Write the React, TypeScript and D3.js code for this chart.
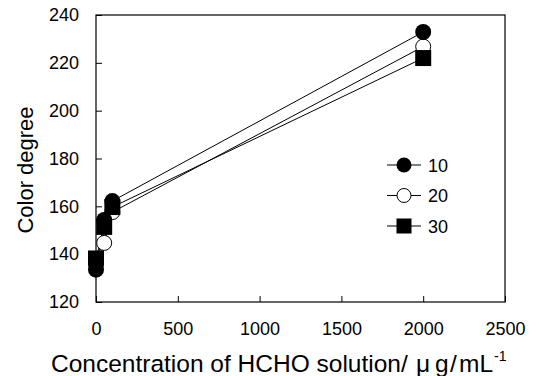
import * as d3 from "d3";
import React, { useEffect, useRef } from "react";

const concentrations = [0, 50, 100, 2000];
const series10 = [133.5, 154.3, 162.2, 232.9];
const series20 = [136.5, 144.7, 157.6, 226.8];
const series30 = [138.2, 151.4, 159.7, 222.0];
const seriesNames = ["10", "20", "30"];
const xTicks = [0, 500, 1000, 1500, 2000, 2500];
const yTicks = [120, 140, 160, 180, 200, 220, 240];

export default function App() {
  const svgRef = useRef<SVGSVGElement>(null);
  const width = 539;
  const height = 376;
  const margin = { top: 15, right: 34, bottom: 74, left: 96 };

  useEffect(() => {
    const svg = d3.select(svgRef.current);
    svg.selectAll("*").remove();
    const font = "'Liberation Sans', Arial, sans-serif";

    const x = d3
      .scaleLinear()
      .domain([0, 2500])
      .range([margin.left, width - margin.right]);
    const y = d3
      .scaleLinear()
      .domain([120, 240])
      .range([height - margin.bottom, margin.top]);

    // frame
    svg
      .append("rect")
      .attr("x", margin.left)
      .attr("y", margin.top)
      .attr("width", width - margin.left - margin.right)
      .attr("height", height - margin.top - margin.bottom)
      .attr("fill", "none")
      .attr("stroke", "#000")
      .attr("stroke-width", 1.2);

    /* X axis, ticks inside */
    const xAxis = svg
      .append("g")
      .attr("transform", "translate(0," + (height - margin.bottom) + ")")
      .call(
        d3
          .axisBottom(x)
          .tickValues(xTicks)
          .tickFormat(d3.format("d"))
          .tickSizeInner(-6)
          .tickSizeOuter(0)
          .tickPadding(20)
      );
    xAxis.select(".domain").remove();
    xAxis.selectAll("text").style("font-family", font).style("font-size", "18px").attr("fill", "#000");

    /* Y axis, ticks inside */
    const yAxis = svg
      .append("g")
      .attr("transform", "translate(" + margin.left + ",0)")
      .call(d3.axisLeft(y).tickValues(yTicks).tickSizeInner(-6).tickSizeOuter(0).tickPadding(17));
    yAxis.select(".domain").remove();
    yAxis.selectAll("text").style("font-family", font).style("font-size", "18px").attr("fill", "#000");

    const all = [series10, series20, series30];
    const line = d3
      .line<number>()
      .x((d, i) => x(concentrations[i]))
      .y((d) => y(d));

    all.forEach((s) => {
      svg
        .append("path")
        .attr("d", line(s) as string)
        .attr("fill", "none")
        .attr("stroke", "#000")
        .attr("stroke-width", 1);
    });

    const drawMarker = (g: any, k: number, cx: number, cy: number, big: boolean) => {
      const r = big ? 8 : 7.5;
      if (k === 0) {
        g.append("circle").attr("cx", cx).attr("cy", cy).attr("r", r).attr("fill", "#000");
      } else if (k === 1) {
        g.append("circle")
          .attr("cx", cx)
          .attr("cy", cy)
          .attr("r", r - 0.5)
          .attr("fill", "#fff")
          .attr("stroke", "#000")
          .attr("stroke-width", 1);
      } else {
        g.append("rect")
          .attr("x", cx - r)
          .attr("y", cy - r)
          .attr("width", r * 2)
          .attr("height", r * 2)
          .attr("fill", "#000");
      }
    };

    // draw order: open circles first, then filled circles, then squares
    [1, 0, 2].forEach((k) => {
      const g = svg.append("g");
      all[k].forEach((v, i) => drawMarker(g, k, x(concentrations[i]), y(v), true));
    });

    /* legend */
    const legend = svg.append("g");
    seriesNames.forEach((name, k) => {
      const ly = 165 + k * 30.5;
      legend
        .append("line")
        .attr("x1", 387)
        .attr("x2", 421)
        .attr("y1", ly)
        .attr("y2", ly)
        .attr("stroke", "#000")
        .attr("stroke-width", 1);
      drawMarker(legend, k, 404, ly, false);
      legend
        .append("text")
        .attr("x", 428)
        .attr("y", ly + 6.5)
        .style("font-family", font)
        .style("font-size", "18px")
        .text(name);
    });

    /* axis titles */
    const xt = svg
      .append("text")
      .attr("y", 372)
      .style("font-family", font)
      .style("font-size", "24.5px");
    xt.append("tspan").attr("x", 51).text("Concentration of HCHO solution/");
    xt.append("tspan").attr("x", 416).text("μ");
    xt.append("tspan").attr("x", 435).text("g");
    xt.append("tspan").attr("x", 450).text("/");
    xt.append("tspan").attr("x", 459).text("mL");
    xt.append("tspan").attr("x", 494).attr("dy", -11).style("font-size", "14px").text("-1");

    svg
      .append("text")
      .attr("transform", "translate(33,170) rotate(-90)")
      .attr("text-anchor", "middle")
      .style("font-family", font)
      .style("font-size", "22px")
      .text("Color degree");
  });

  return (
    <svg
      width={width}
      height={height}
      ref={svgRef}
      style={{ position: "absolute", left: 0, top: 0, background: "#fff" }}
    ></svg>
  );
}
